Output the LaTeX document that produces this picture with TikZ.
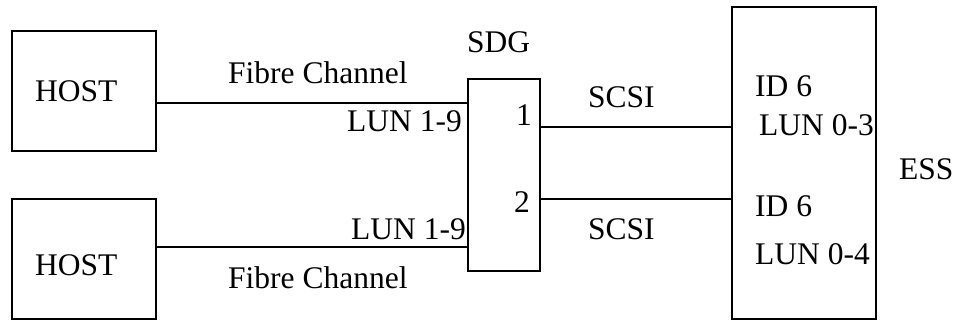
\documentclass[tikz,border=0pt]{standalone}
\usepackage{fontspec}
\setmainfont{Liberation Serif}
\usetikzlibrary{positioning}

\begin{document}
\begin{tikzpicture}[
  x=1pt,
  y=-1pt,
  box/.style={
    draw=black,
    line width=1.3pt,
    rectangle,
    inner sep=0pt
  },
  lbl/.style={
    font=\fontsize{31.5}{38}\selectfont,
    anchor=base west,
    inner sep=0pt
  },
  wire/.style={draw=black, line width=1.3pt}
]

\path[use as bounding box] (0,0) rectangle (958,320);

% boxes
\node[box, minimum width=144pt, minimum height=120pt] (host1) at (84,91) {};
\node[box, minimum width=144pt, minimum height=120pt] (host2) at (84,259) {};
\node[box, minimum width=72pt, minimum height=192pt] (sdg) at (504,175) {};
\node[box, minimum width=144pt, minimum height=312pt] (ess) at (804,163) {};

% wire heights
\coordinate (fc1) at (0,103);
\coordinate (fc2) at (0,247);
\coordinate (sc1) at (0,127);
\coordinate (sc2) at (0,199);

\draw[wire] (host1.east |- fc1) -- (sdg.west |- fc1);
\draw[wire] (host2.east |- fc2) -- (sdg.west |- fc2);
\draw[wire] (sdg.east |- sc1) -- (ess.west |- sc1);
\draw[wire] (sdg.east |- sc2) -- (ess.west |- sc2);

% labels
\node[lbl] (thost1) at (35,102) {HOST};
\node[lbl] (thost2) at (35,276) {HOST};
\node[lbl] (tfc1) at (228,84) {Fibre Channel};
\node[lbl] (tfc2) at (228,288) {Fibre Channel};
\node[lbl] (tlun1) at (347,132) {LUN 1-9};
\node[lbl] (tlun2) at (351,240) {LUN 1-9};
\node[lbl] (tsdg) at (467,53) {SDG};
\node[lbl] (tport1) at (516,126) {1};
\node[lbl] (tport2) at (514,213) {2};
\node[lbl] (tscsi1) at (588,108) {SCSI};
\node[lbl] (tscsi2) at (588,240) {SCSI};
\node[lbl] (tid1) at (755,97) {ID 6};
\node[lbl] (tlun3) at (759,136) {LUN 0-3};
\node[lbl] (tid2) at (755,217) {ID 6};
\node[lbl] (tlun4) at (755,265) {LUN 0-4};
\node[lbl] (tess) at (899,180) {ESS};
\end{tikzpicture}
\end{document}
